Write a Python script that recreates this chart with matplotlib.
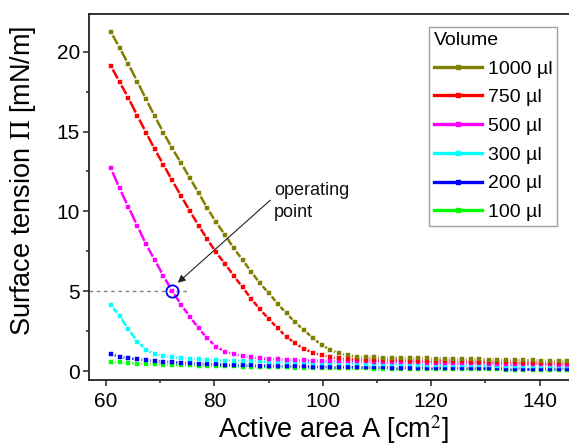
import numpy as np
import matplotlib
matplotlib.use("Agg")
import matplotlib.pyplot as plt
from matplotlib.collections import LineCollection
from matplotlib.lines import Line2D

plt.rcParams['font.family'] = ['Liberation Sans', 'DejaVu Sans']
plt.rcParams['mathtext.fontset'] = 'stix'

# ---------------- data ----------------
area = [60.9, 62.5, 64.1, 65.8, 67.4, 69.0, 70.6, 72.2, 73.9, 75.5,
        77.1, 78.7, 80.3, 82.0, 83.6, 85.2, 86.8, 88.4, 90.1, 91.7,
        93.3, 94.9, 96.5, 98.2, 99.8, 101.4, 103.0, 104.6, 106.3, 107.9,
        109.5, 111.1, 112.7, 114.4, 116.0, 117.6, 119.2, 120.8, 122.5, 124.1,
        125.7, 127.3, 128.9, 130.6, 132.2, 133.8, 135.4, 137.0, 138.7, 140.3,
        141.9, 143.5, 145.1]

pi_1000 = [21.23, 20.25, 19.23, 18.12, 17.01, 15.95, 14.93, 13.95, 13.00, 12.07,
           11.15, 10.19, 9.33, 8.50, 7.68, 6.95, 6.22, 5.49, 4.86, 4.20,
           3.61, 3.05, 2.57, 2.05, 1.63, 1.32, 1.11, 0.98, 0.90, 0.87,
           0.85, 0.84, 0.83, 0.82, 0.81, 0.80, 0.79, 0.78, 0.77, 0.76,
           0.75, 0.74, 0.73, 0.72, 0.71, 0.70, 0.69, 0.68, 0.67, 0.66,
           0.65, 0.64, 0.63]
pi_750 = [19.10, 18.10, 17.12, 15.97, 14.93, 13.88, 12.92, 11.94, 10.94, 10.00,
          9.10, 8.25, 7.43, 6.70, 5.95, 5.24, 4.53, 3.86, 3.24, 2.67,
          2.15, 1.73, 1.40, 1.15, 0.98, 0.88, 0.79, 0.76, 0.74, 0.72,
          0.71, 0.70, 0.68, 0.67, 0.66, 0.65, 0.64, 0.63, 0.62, 0.61,
          0.60, 0.59, 0.58, 0.57, 0.56, 0.55, 0.54, 0.53, 0.52, 0.51,
          0.50, 0.49, 0.48]
pi_500 = [12.69, 11.44, 10.29, 9.08, 7.93, 6.95, 5.95, 5.03, 4.13, 3.40,
          2.67, 2.05, 1.52, 1.21, 1.04, 0.94, 0.86, 0.79, 0.75, 0.73,
          0.70, 0.69, 0.67, 0.66, 0.65, 0.64, 0.63, 0.62, 0.61, 0.60,
          0.59, 0.58, 0.57, 0.56, 0.55, 0.54, 0.53, 0.52, 0.51, 0.50,
          0.50, 0.49, 0.48, 0.47, 0.46, 0.45, 0.45, 0.44, 0.43, 0.42,
          0.42, 0.41, 0.40]
pi_300 = [4.13, 3.46, 2.63, 1.85, 1.33, 1.06, 0.94, 0.86, 0.80, 0.76,
          0.73, 0.70, 0.68, 0.66, 0.64, 0.62, 0.61, 0.60, 0.58, 0.57,
          0.56, 0.55, 0.54, 0.53, 0.52, 0.51, 0.50, 0.49, 0.48, 0.47,
          0.46, 0.45, 0.44, 0.43, 0.42, 0.41, 0.40, 0.39, 0.38, 0.38,
          0.37, 0.36, 0.35, 0.35, 0.34, 0.33, 0.33, 0.32, 0.31, 0.31,
          0.30, 0.30, 0.29]
pi_200 = [1.05, 0.90, 0.80, 0.73, 0.68, 0.63, 0.59, 0.55, 0.52, 0.49,
          0.46, 0.44, 0.42, 0.40, 0.38, 0.36, 0.35, 0.34, 0.33, 0.32,
          0.31, 0.30, 0.29, 0.28, 0.27, 0.26, 0.26, 0.25, 0.24, 0.24,
          0.23, 0.23, 0.22, 0.22, 0.21, 0.21, 0.20, 0.20, 0.19, 0.19,
          0.18, 0.18, 0.17, 0.17, 0.17, 0.16, 0.16, 0.15, 0.15, 0.15,
          0.14, 0.14, 0.13]
pi_100 = [0.58, 0.54, 0.50, 0.47, 0.45, 0.43, 0.41, 0.39, 0.37, 0.35,
          0.34, 0.32, 0.31, 0.30, 0.29, 0.28, 0.27, 0.26, 0.25, 0.24,
          0.23, 0.22, 0.21, 0.21, 0.20, 0.19, 0.19, 0.18, 0.17, 0.17,
          0.16, 0.16, 0.15, 0.15, 0.14, 0.14, 0.13, 0.13, 0.12, 0.12,
          0.11, 0.11, 0.10, 0.10, 0.10, 0.09, 0.09, 0.09, 0.08, 0.08,
          0.08, 0.07, 0.07]

labels = ["1000 µl", "750 µl", "500 µl", "300 µl", "200 µl", "100 µl"]
series = [pi_1000, pi_750, pi_500, pi_300, pi_200, pi_100]
colors = ["#808000", "#ff0000", "#ff00ff", "#00ffff", "#0000ff", "#00ff00"]

op_x, op_y = 72.2, 5.0

# ---------------- figure ----------------
W, H = 569, 448
fig = plt.figure(figsize=(W / 100, H / 100), dpi=100)
x0, x1 = 56.86, 147.0
px_per_x = 5.42
ax_left = 89 / W
ax_w = (x1 - x0) * px_per_x / W
ax_bottom = (H - 380) / H
ax_h = (380 - 14.3) / H
ax = fig.add_axes([ax_left, ax_bottom, ax_w, ax_h])
ax.set_xlim(x0, x1)
ax.set_ylim(-0.56, 22.34)

for s in ax.spines.values():
    s.set_linewidth(1.3)
    s.set_color('#222222')

ax.set_xticks([60, 80, 100, 120, 140])
ax.set_xticks([70, 90, 110, 130], minor=True)
ax.set_yticks([0, 5, 10, 15, 20])
ax.set_yticks([2.5, 7.5, 12.5, 17.5], minor=True)
ax.tick_params(which='major', direction='out', length=4.5, width=1.1,
               labelsize=15, color='#222222')
ax.tick_params(which='minor', direction='out', length=2.5, width=1.1,
               color='#222222')
ax.tick_params(axis='x', which='major', pad=4)
ax.tick_params(axis='y', which='major', pad=2)

# gray reference line at operating point
ax.plot([x0, 74.9], [op_y, op_y], color='#808080', lw=1.0,
        dashes=(2.6, 2.6), zorder=1)

gap_px = 4.0
for yv, c in reversed(list(zip(series, colors))):
    pts = ax.transData.transform(np.column_stack([area, yv]))
    segs = []
    for p0, p1 in zip(pts[:-1], pts[1:]):
        d = p1 - p0
        L = np.hypot(*d)
        if L > 2 * gap_px:
            u = d / L
            a = p0 + u * gap_px
            b = p1 - u * gap_px
            segs.append(ax.transData.inverted().transform(np.array([a, b])))
    ax.add_collection(LineCollection(segs, colors=c, linewidths=1.8,
                                     capstyle='butt', zorder=2))
    ax.plot(area, yv, linestyle='none', marker='s', markersize=3.4,
            markerfacecolor=c, markeredgecolor=c, markeredgewidth=0.3,
            zorder=3)

# operating point
ax.plot([op_x], [op_y], marker='o', markersize=8.8, markerfacecolor='none',
        markeredgecolor='#0000ff', markeredgewidth=1.3, zorder=5)
ax.annotate("", xy=(73.25, 5.53), xytext=(90.3, 10.7),
            arrowprops=dict(arrowstyle='-|>', color='#222222', lw=0.8,
                            mutation_scale=11, shrinkA=0, shrinkB=0),
            zorder=6)
ax.text(91.0, (371 - 195) / 15.97, "operating", fontsize=13,
        ha='left', va='baseline', color='#111111')
ax.text(91.0, (371 - 217) / 15.97, "point", fontsize=13,
        ha='left', va='baseline', color='#111111')

# legend
handles = [Line2D([], [], color=c, lw=2.4, marker='s', markersize=3.4,
                  markerfacecolor=c, markeredgecolor=c) for c in colors]
leg = fig.legend(handles, labels, title="Volume", loc='upper right',
                 bbox_to_anchor=(557 / W, 1 - 27 / H),
                 bbox_transform=fig.transFigure, borderaxespad=0,
                 fontsize=14, title_fontsize=14, frameon=True,
                 fancybox=False, framealpha=1, edgecolor='#a0a0a0',
                 handlelength=2.45, handletextpad=0.3, labelspacing=0.57,
                 borderpad=0.25, alignment='left')
leg.get_frame().set_linewidth(1.0)

# axis labels
fig.text(23 / W, 1 - 181 / H, r"Surface tension $\Pi$ [mN/m]", fontsize=19.5,
         rotation=90, ha='center', va='center')
fig.text(333.5 / W, 2 / H, r"Active area A [cm$^2$]", fontsize=19.5,
         ha='center', va='bottom')

fig.savefig("out.png", dpi=100)
